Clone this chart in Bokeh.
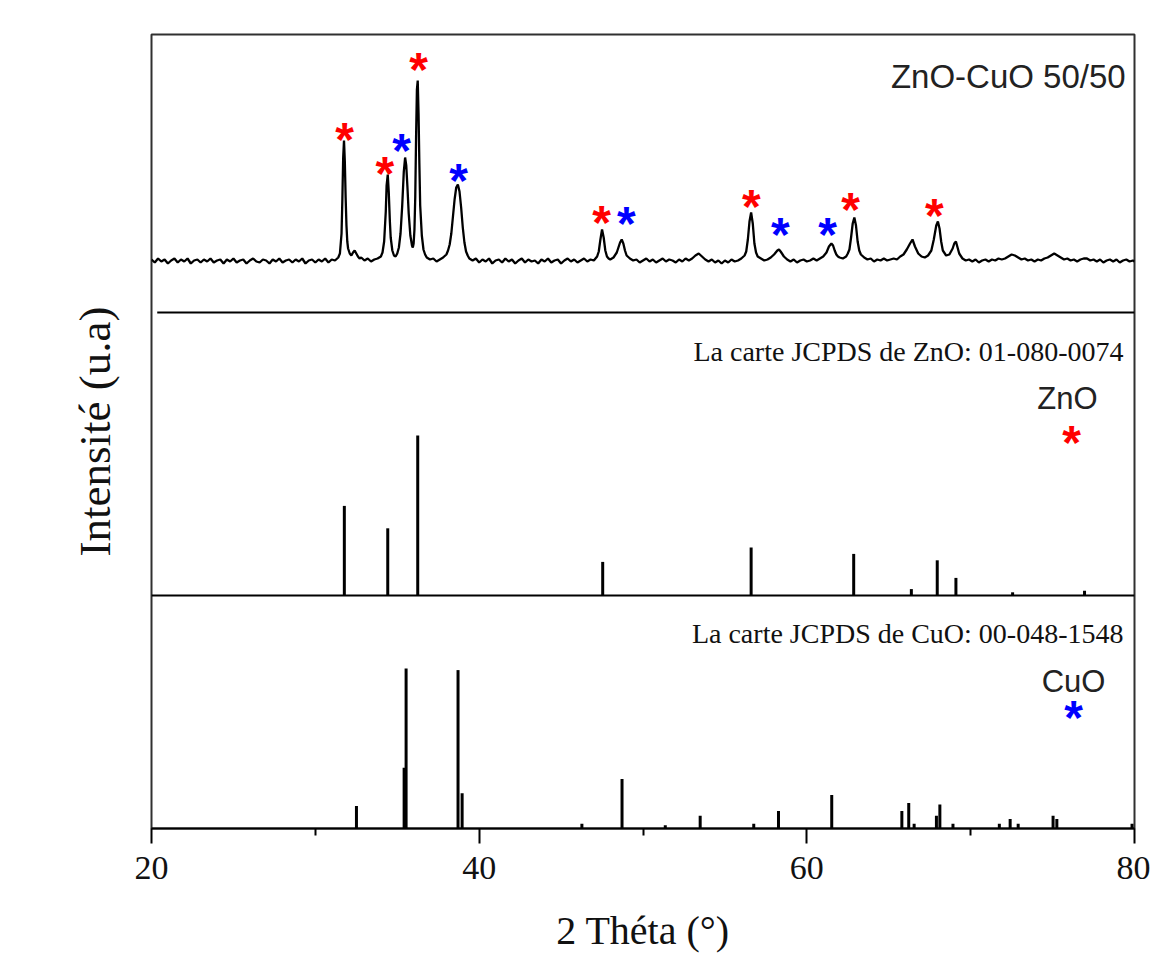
from bokeh.plotting import figure
from bokeh.models import Range1d, FixedTicker, Label, Title
from bokeh.core.properties import value
from bokeh.embed import file_html
from bokeh.resources import INLINE

# ---------------- data ----------------
# Measured XRD pattern of ZnO-CuO 50/50 : (2theta in degrees, intensity in a.u. above background)
xrd_pattern = [
    (20.0, 2), (20.2, -1), (20.4, 3), (20.6, 0), (20.8, 2), (21.0, -2), (21.2, 1), (21.4, 3), (21.6, -1),
    (21.8, 2), (22.0, 0), (22.2, 3), (22.4, -2), (22.6, 1), (22.8, 2), (23.0, -1), (23.2, 2), (23.4, 0),
    (23.6, 3), (23.8, -1), (24.0, 1), (24.2, 2), (24.4, -2), (24.6, 2), (24.8, 0), (25.0, 3), (25.2, -1),
    (25.4, 1), (25.6, 2), (25.8, -2), (26.0, 1), (26.2, 3), (26.4, 0), (26.6, -1), (26.8, 2), (27.0, 1),
    (27.2, -2), (27.4, 2), (27.6, 0), (27.8, 3), (28.0, -1), (28.2, 1), (28.4, 2), (28.6, -1), (28.8, 2),
    (29.0, 0), (29.2, 3), (29.4, -2), (29.6, 1), (29.8, 2), (30.0, -1), (30.2, 2), (30.4, 0), (30.6, 3),
    (30.8, -1), (31.0, 2), (31.2, 1), (31.4, 4),
    (31.5, 8), (31.6, 28), (31.65, 62), (31.7, 104), (31.75, 121), (31.8, 100), (31.85, 64), (31.9, 36),
    (31.95, 20), (32.0, 13), (32.1, 8), (32.2, 6), (32.3, 9), (32.4, 11), (32.5, 8), (32.6, 5), (32.7, 3),
    (32.8, 4), (33.0, 1), (33.2, 3), (33.4, 0), (33.6, 2), (33.8, 3), (34.0, 5), (34.1, 9),
    (34.2, 20), (34.3, 50), (34.35, 76), (34.42, 87), (34.48, 70), (34.55, 40), (34.6, 24), (34.7, 11),
    (34.8, 6), (34.9, 5), (35.0, 8), (35.1, 14),
    (35.2, 28), (35.3, 55), (35.4, 90), (35.48, 104), (35.55, 96), (35.62, 75), (35.7, 48), (35.8, 26),
    (35.9, 16), (35.95, 14),
    (36.0, 18), (36.05, 32), (36.1, 65), (36.15, 125), (36.2, 172), (36.25, 181), (36.3, 148), (36.35, 98),
    (36.4, 56), (36.5, 26), (36.6, 12), (36.7, 7), (36.8, 4), (37.0, 2), (37.2, 3), (37.4, 0), (37.6, 2),
    (37.8, 4), (38.0, 7),
    (38.1, 11), (38.2, 17), (38.3, 28), (38.4, 45), (38.5, 62), (38.6, 74), (38.7, 77), (38.8, 70),
    (38.9, 54), (39.0, 34), (39.1, 19), (39.2, 10), (39.3, 6), (39.4, 3),
    (39.6, 1), (39.8, 3), (40.0, -1), (40.2, 2), (40.4, 0), (40.6, 3), (40.8, -2), (41.0, 1), (41.2, 2),
    (41.4, -1), (41.6, 3), (41.8, 0), (42.0, 2), (42.2, -2), (42.4, 1), (42.6, 3), (42.8, -1), (43.0, 2),
    (43.2, 0), (43.4, 1), (43.6, -2), (43.8, 2), (44.0, 0), (44.2, 3), (44.4, -1), (44.6, 1), (44.8, 2),
    (45.0, -2), (45.2, 1), (45.4, 3), (45.6, 0), (45.8, 2), (46.0, -1), (46.2, 1), (46.4, 3), (46.6, 0),
    (46.8, 2), (47.0, 1),
    (47.2, 5), (47.3, 10), (47.4, 22), (47.5, 32), (47.6, 24), (47.7, 11), (47.8, 5), (47.9, 3), (48.0, 2),
    (48.2, 4), (48.4, 9), (48.5, 14), (48.6, 19), (48.7, 22), (48.8, 18), (48.9, 11), (49.0, 6), (49.2, 3),
    (49.4, 1),
    (49.6, 2), (49.8, -1), (50.0, 1), (50.2, 3), (50.4, 0), (50.6, 2), (50.8, -1), (51.0, 1), (51.2, 3),
    (51.4, 0), (51.6, 2), (51.8, 1), (52.0, -1), (52.2, 2), (52.4, 0), (52.6, 3), (52.8, 1), (53.0, 3),
    (53.2, 6), (53.4, 8), (53.6, 5), (53.8, 2), (54.0, 0), (54.2, 2), (54.4, -1), (54.6, 1), (54.8, -2),
    (55.0, 1), (55.2, -1), (55.4, 2), (55.6, 0), (55.8, 1), (56.0, 3), (56.2, 6),
    (56.3, 10), (56.4, 22), (56.5, 40), (56.6, 49), (56.7, 38), (56.8, 18), (56.9, 9), (57.0, 5),
    (57.2, 3), (57.4, 1), (57.6, 2), (57.8, 4), (58.0, 7), (58.2, 11), (58.3, 12), (58.4, 10), (58.6, 5),
    (58.8, 2), (59.0, 0), (59.2, 2), (59.4, -1), (59.6, 1), (59.8, 2), (60.0, 0), (60.2, 1), (60.4, 3),
    (60.6, 1), (60.8, 3), (61.0, 5), (61.2, 9), (61.35, 15), (61.5, 18), (61.6, 16), (61.7, 11), (61.8, 7),
    (61.9, 5), (62.0, 4), (62.2, 3), (62.4, 5), (62.5, 8), (62.6, 12), (62.7, 24), (62.8, 38), (62.9, 44),
    (63.0, 36), (63.1, 20), (63.2, 11), (63.3, 7), (63.5, 4), (63.7, 2), (63.9, 3), (64.1, 0), (64.3, 2),
    (64.5, 1), (64.7, 3), (64.9, 1), (65.1, 2), (65.3, 3), (65.5, 2), (65.7, 5), (65.9, 7), (66.1, 12),
    (66.3, 18), (66.45, 22), (66.6, 15), (66.8, 8), (67.0, 5), (67.2, 4), (67.4, 6), (67.6, 11),
    (67.75, 22), (67.9, 36), (68.0, 40), (68.1, 33), (68.2, 20), (68.3, 11), (68.5, 6), (68.7, 7),
    (68.9, 13), (69.0, 18), (69.1, 20), (69.2, 14), (69.3, 8), (69.5, 3), (69.7, 1), (69.9, 2), (70.1, 0),
    (70.3, 2), (70.5, -1), (70.7, 1), (70.9, 2), (71.1, 0), (71.3, 2), (71.5, 1), (71.7, 3), (71.9, 2),
    (72.1, 3), (72.3, 5), (72.5, 7), (72.7, 6), (72.9, 4), (73.1, 2), (73.3, 3), (73.5, 1), (73.7, 2),
    (73.9, 0), (74.1, 2), (74.3, 1), (74.5, 3), (74.7, 4), (74.9, 6), (75.1, 8), (75.3, 6), (75.5, 4),
    (75.7, 2), (75.9, 3), (76.1, 1), (76.3, 2), (76.5, 0), (76.7, 2), (76.9, 3), (77.1, 3), (77.3, 1),
    (77.5, 2), (77.7, 0), (77.9, 2), (78.1, -1), (78.3, 1), (78.5, 2), (78.7, 0), (78.9, 2), (79.1, -1),
    (79.3, 1), (79.5, 2), (79.7, 0), (79.9, 1), (80.0, 0),
]
xrd_2theta = [a for a, _ in xrd_pattern]
xrd_intensity = [b for _, b in xrd_pattern]

# JCPDS 01-080-0074 (ZnO) reference lines: 2theta, relative intensity (%)
zno_2theta = [31.77, 34.42, 36.25, 47.54, 56.60, 62.86, 66.38, 67.96, 69.10, 72.56, 76.95]
zno_rel_int = [56, 42, 100, 21, 30, 26, 4, 22, 11, 2, 3]

# JCPDS 00-048-1548 (CuO) reference lines: 2theta, relative intensity (%)
cuo_2theta = [32.51, 35.42, 35.54, 38.71, 38.96, 46.27, 48.72, 51.36, 53.49, 56.76, 58.27, 61.52,
              65.80, 66.22, 66.55, 67.91, 68.12, 68.92, 71.75, 72.41, 72.90, 75.03, 75.26, 79.85]
cuo_rel_int = [14, 38, 100, 99, 22, 3, 31, 2, 8, 3, 11, 21,
               11, 16, 3, 8, 15, 3, 3, 6, 3, 8, 6, 3]

# Peak markers on the measured pattern (2theta, marker height in a.u.)
zno_mark_2theta = [31.78, 34.25, 36.30, 47.47, 56.62, 62.67, 67.79]
zno_mark_height = [128, 94, 198, 45, 61, 58, 52]
cuo_mark_2theta = [35.26, 38.74, 48.99, 58.39, 61.26]
cuo_mark_height = [117, 87, 44, 33, 33]

# ---------------- layout (panel offsets in plot units) ----------------
XRD_BASE = 567
DIVIDER_Y = 516
ZNO_BASE = 233
CUO_BASE = 0
STICK_SCALE = 1.6
STAR_SHIFT = -6

p = figure(width=1150, height=960, x_range=Range1d(20, 80), y_range=Range1d(0, 794),
           output_backend="svg", toolbar_location=None,
           min_border_left=151, min_border_right=16, min_border_top=34, min_border_bottom=132)
p.grid.visible = False
p.outline_line_color = "#303030"
p.outline_line_width = 2
p.background_fill_color = "white"
p.border_fill_color = "white"

# x axis
xa = p.xaxis[0]
xa.ticker = FixedTicker(ticks=[20, 40, 60, 80], minor_ticks=[30, 50, 70])
xa.axis_line_color = "black"
xa.axis_line_width = 2
xa.major_tick_line_width = 2
xa.major_tick_line_color = "black"
xa.major_tick_out = 15
xa.major_tick_in = 0
xa.minor_tick_line_width = 2
xa.minor_tick_line_color = "black"
xa.minor_tick_out = 7
xa.minor_tick_in = 0
xa.major_label_text_font = "Liberation Serif"
xa.major_label_text_font_size = "34px"
xa.major_label_text_color = "#111111"
xa.major_label_standoff = 13
xa.axis_label = "2 Théta (°)"
xa.axis_label_text_font = "Liberation Serif"
xa.axis_label_text_font_style = "normal"
xa.axis_label_text_font_size = "40px"
xa.axis_label_text_color = "#111111"
xa.axis_label_standoff = 26

# y axis: no ticks; its title is a left-side title
ya = p.yaxis[0]
ya.ticker = FixedTicker(ticks=[])
ya.axis_line_color = None
ya.major_tick_line_color = None
ya.minor_tick_line_color = None
ya.major_tick_out = 0
ya.minor_tick_out = 0
p.add_layout(Title(text="Intensité (u.a)", align="center", standoff=63,
                   text_font="Liberation Serif", text_font_style="normal", text_font_size="45px",
                   text_color="#111111"), "left")

# measured pattern
p.line(xrd_2theta, [XRD_BASE + v for v in xrd_intensity], line_color="black", line_width=2.3)

# panel separators
p.segment(x0=[20.35, 20], y0=[DIVIDER_Y, ZNO_BASE], x1=[80, 80], y1=[DIVIDER_Y, ZNO_BASE],
          line_color="black", line_width=2)

# reference sticks
p.segment(x0=zno_2theta, y0=[ZNO_BASE] * len(zno_2theta), x1=zno_2theta,
          y1=[ZNO_BASE + STICK_SCALE * v for v in zno_rel_int], line_color="black", line_width=3)
p.segment(x0=cuo_2theta, y0=[CUO_BASE] * len(cuo_2theta), x1=cuo_2theta,
          y1=[CUO_BASE + STICK_SCALE * v for v in cuo_rel_int], line_color="black", line_width=3)

# asterisk markers
star_kw = dict(text_font=value("Liberation Sans"), text_font_style="bold", text_font_size="48px",
               text_align="center", text_baseline="middle")
p.text(x=zno_mark_2theta, y=[XRD_BASE + h + STAR_SHIFT for h in zno_mark_height],
       text=["*"] * len(zno_mark_2theta), text_color="#ff0000", **star_kw)
p.text(x=cuo_mark_2theta, y=[XRD_BASE + h + STAR_SHIFT for h in cuo_mark_height],
       text=["*"] * len(cuo_mark_2theta), text_color="#0000ff", **star_kw)
p.text(x=[76.16], y=[392 + STAR_SHIFT], text=["*"], text_color="#ff0000", **star_kw)
p.text(x=[76.28], y=[117 + STAR_SHIFT], text=["*"], text_color="#0000ff", **star_kw)

# texts
p.add_layout(Label(x=79.46, y=752, text="ZnO-CuO 50/50", text_align="right", text_baseline="alphabetic",
                   text_font="Liberation Sans", text_font_size="33px", text_color="#222222"))
p.add_layout(Label(x=79.33, y=477, text="La carte JCPDS de ZnO: 01-080-0074", text_align="right",
                   text_baseline="alphabetic", text_font="Liberation Serif", text_font_size="28px",
                   text_color="#111111"))
p.add_layout(Label(x=75.91, y=430, text="ZnO", text_align="center", text_baseline="alphabetic",
                   text_font="Liberation Sans", text_font_size="31px", text_color="#222222"))
p.add_layout(Label(x=79.33, y=195, text="La carte JCPDS de CuO: 00-048-1548", text_align="right",
                   text_baseline="alphabetic", text_font="Liberation Serif", text_font_size="28px",
                   text_color="#111111"))
p.add_layout(Label(x=76.28, y=147, text="CuO", text_align="center", text_baseline="alphabetic",
                   text_font="Liberation Sans", text_font_size="31px", text_color="#222222"))

open("out.html", "w").write(file_html(p, INLINE))
